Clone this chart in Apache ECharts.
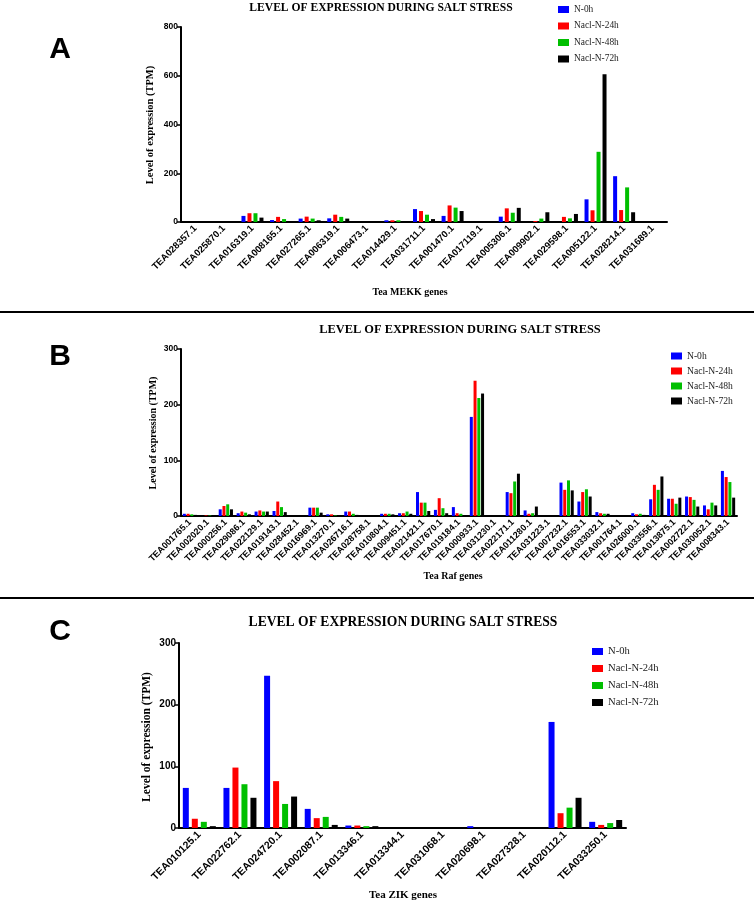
<!DOCTYPE html>
<html><head><meta charset="utf-8">
<script src="https://cdn.jsdelivr.net/npm/echarts@6/dist/echarts.min.js"></script>
<style>html,body{margin:0;padding:0;background:#fff}#c{width:754px;height:904px}</style>
</head><body><div id="c"></div>
<script>
const seriesNames = ['N-0h','Nacl-N-24h','Nacl-N-48h','Nacl-N-72h'];
const colors = ['#0000FF','#FF0000','#00BF00','#000000'];

// Panel A: Tea MEKK genes
const catsA = ['TEA028357.1','TEA025870.1','TEA016319.1','TEA008165.1','TEA027265.1','TEA006319.1','TEA006473.1','TEA014429.1','TEA031711.1','TEA001470.1','TEA017119.1','TEA005306.1','TEA009902.1','TEA029598.1','TEA005122.1','TEA028214.1','TEA031689.1'];
const a0h  = [0,0,25,8,14,15,0,7,53,25,0,22,0,0,93,188,0];
const a24h = [0,0,36,21,22,30,0,7,45,68,0,56,4,21,48,49,0];
const a48h = [0,0,36,12,14,21,0,7,30,59,0,38,14,15,288,142,0];
const a72h = [0,0,18,4,7,14,0,3,12,45,0,58,40,33,606,40,0];

// Panel B: Tea Raf genes
const catsB = ['TEA001765.1','TEA002020.1','TEA000256.1','TEA029086.1','TEA022129.1','TEA019143.1','TEA028452.1','TEA016969.1','TEA013270.1','TEA026716.1','TEA028758.1','TEA010804.1','TEA009451.1','TEA021421.1','TEA017670.1','TEA019184.1','TEA000933.1','TEA031230.1','TEA022171.1','TEA011280.1','TEA031223.1','TEA007232.1','TEA016553.1','TEA033032.1','TEA001764.1','TEA026000.1','TEA033556.1','TEA013875.1','TEA002722.1','TEA030052.1','TEA008343.1'];
const b0h  = [4,0,12,5,8,9,0,15,3,8,0,4,5,43,11,16,178,0,43,10,0,60,26,7,0,5,30,31,35,19,81];
const b24h = [4,1,18,8,10,26,0,15,3,8,0,4,5,24,32,5,243,0,41,4,0,47,43,5,0,3,56,31,34,12,70];
const b48h = [3,1,21,6,8,16,0,15,1,4,0,4,8,24,14,4,212,0,62,5,0,64,48,4,0,4,47,22,29,24,61];
const b72h = [2,0,12,3,8,7,0,6,0,2,0,3,4,9,5,0,220,0,76,17,0,46,35,4,0,2,71,33,17,19,33];

// Panel C: Tea ZIK genes
const catsC = ['TEA010125.1','TEA022762.1','TEA024720.1','TEA002087.1','TEA013346.1','TEA013344.1','TEA031068.1','TEA020698.1','TEA027328.1','TEA020112.1','TEA033250.1'];
const c0h  = [65,65,247,31,4,0,0,3,0,172,10];
const c24h = [15,98,76,16,4,0,0,0,0,24,5];
const c48h = [10,71,39,18,3,0,0,0,0,33,8];
const c72h = [3,49,51,5,3,0,0,0,0,49,13];

const yTicksA = {min:0,max:800,interval:200};
const yTicksB = {min:0,max:300,interval:100};
const yTicksC = {min:0,max:300,interval:100};

const serif = 'Liberation Serif';
const sans = 'Liberation Sans';

function xAx(gi, cats, fs){
  return {type:'category', gridIndex:gi, data:cats,
    axisLine:{lineStyle:{color:'#000',width:2}},
    axisTick:{alignWithLabel:true,length:4,lineStyle:{color:'#000',width:1.5}},
    axisLabel:{interval:0,rotate:45,color:'#000',fontFamily:sans,fontWeight:'bold',fontSize:fs,margin:5}};
}
function yAx(gi, t, fs){
  return {type:'value', gridIndex:gi, min:t.min, max:t.max, interval:t.interval,
    splitLine:{show:false},
    axisLine:{show:true,lineStyle:{color:'#000',width:2}},
    axisTick:{show:true,length:4,lineStyle:{color:'#000',width:1.5}},
    axisLabel:{color:'#000',fontFamily:sans,fontWeight:'bold',fontSize:fs,margin:3}};
}
function bars(gi, arrs, bw, gap){
  return arrs.map((d,i)=>({type:'bar', name:seriesNames[i], xAxisIndex:gi, yAxisIndex:gi,
    data:d, barWidth:bw, barGap:gap, itemStyle:{color:colors[i]}, silent:true}));
}
function legend(left, top, gap, fs){
  return {data:seriesNames, orient:'vertical', left:left, top:top, icon:'rect',
    itemWidth:11, itemHeight:7, itemGap:gap, padding:0,
    textStyle:{fontFamily:serif,fontSize:fs,color:'#222'}};
}
function txt(x,y,s,font,rot){
  return {type:'text', x:x, y:y, rotation:rot||0,
    style:{text:s, font:font, fill:'#000', textAlign:'center', textVerticalAlign:'middle'}};
}

const chart = echarts.init(document.getElementById('c'));
chart.setOption({
  animation:false,
  grid:[
    {left:181, top:27, width:486, height:195},
    {left:181, top:349, width:556, height:167},
    {left:179, top:643, width:447, height:185}
  ],
  xAxis:[xAx(0,catsA,9.5), xAx(1,catsB,9), xAx(2,catsC,10.5)],
  yAxis:[yAx(0,yTicksA,8.5), yAx(1,yTicksB,8.5), yAx(2,yTicksC,10)],
  legend:[legend(558,5,7.5,9.4), legend(671,351,5,9.6), legend(592,646,6,10.6)],
  series:[].concat(
    bars(0,[a0h,a24h,a48h,a72h],4,'50%'),
    bars(1,[b0h,b24h,b48h,b72h],3,'25%'),
    bars(2,[c0h,c24h,c48h,c72h],6,'50%')
  ),
  graphic:[
    txt(381,8,'LEVEL OF EXPRESSION DURING SALT STRESS','bold 11.6px "Liberation Serif"'),
    txt(460,330,'LEVEL OF EXPRESSION DURING SALT STRESS','bold 12.4px "Liberation Serif"'),
    txt(403,622,'LEVEL OF EXPRESSION DURING SALT STRESS','bold 13.6px "Liberation Serif"'),
    txt(60,50,'A','bold 30px "Liberation Sans"'),
    txt(60,357,'B','bold 30px "Liberation Sans"'),
    txt(60,632,'C','bold 30px "Liberation Sans"'),
    txt(410,292,'Tea MEKK genes','bold 10px "Liberation Serif"'),
    txt(453,576,'Tea Raf genes','bold 10px "Liberation Serif"'),
    txt(403,895,'Tea ZIK genes','bold 11px "Liberation Serif"'),
    txt(150,125,'Level of expression (TPM)','bold 10.5px "Liberation Serif"',Math.PI/2),
    txt(153,433,'Level of expression (TPM)','bold 10px "Liberation Serif"',Math.PI/2),
    txt(147,737,'Level of expression (TPM)','bold 11.5px "Liberation Serif"',Math.PI/2),
    {type:'line', shape:{x1:0,y1:312,x2:754,y2:312}, style:{stroke:'#000',lineWidth:2}},
    {type:'line', shape:{x1:0,y1:598,x2:754,y2:598}, style:{stroke:'#000',lineWidth:2}}
  ]
});
</script></body></html>
